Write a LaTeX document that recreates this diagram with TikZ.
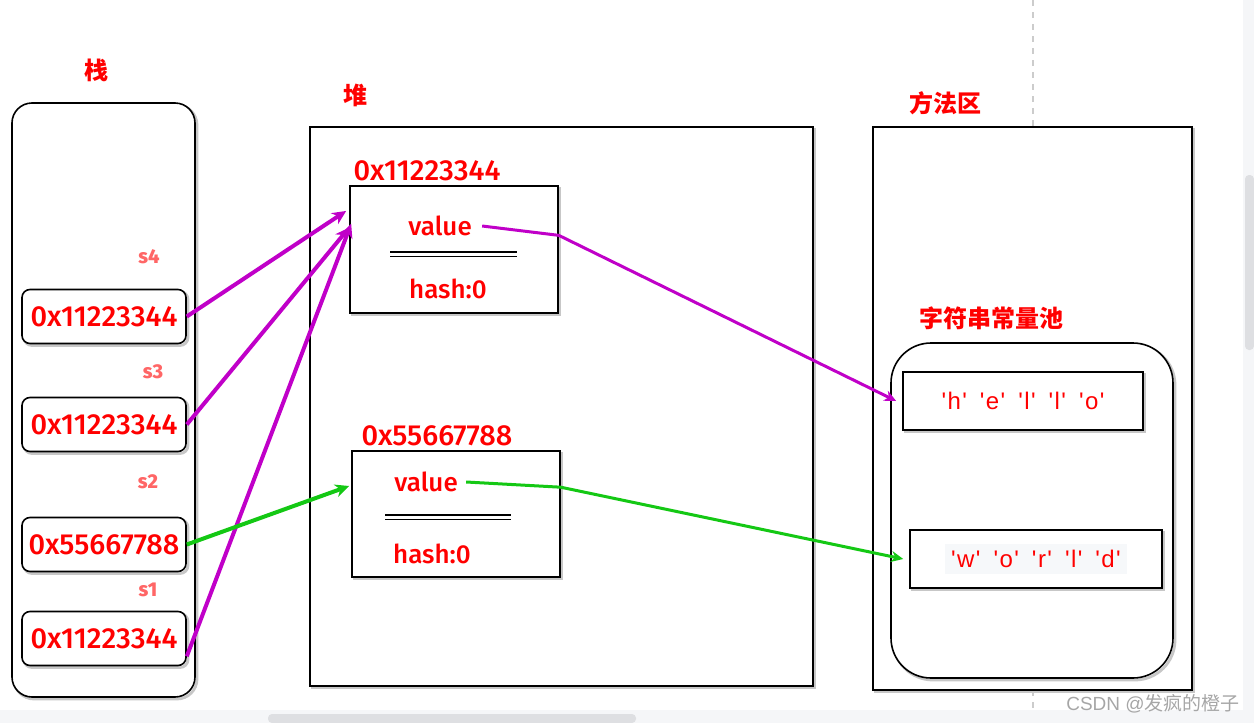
\documentclass[tikz,border=0pt]{standalone}
\usepackage{fontspec}
\setmainfont{Fira Sans}[UprightFont={* Medium}]
\newfontfamily\cjk{Noto Sans CJK SC}
\newfontfamily\charfont{Liberation Sans}[LetterSpace=6]
\newfontfamily\markfont{Liberation Sans}
\usepackage{tikz}
\usetikzlibrary{arrows.meta,positioning,calc}
\definecolor{memred}{HTML}{FF0000}
\definecolor{varred}{HTML}{FF6666}
\definecolor{refpurple}{HTML}{C000C8}
\definecolor{refgreen}{HTML}{14C814}
\definecolor{panegray}{HTML}{F5F6F8}
\definecolor{thumbgray}{HTML}{DEDFE2}
\definecolor{codebg}{HTML}{F6F8FA}
\newcommand{\chgap}{\hspace{6.5pt}}
\tikzset{
  sketch/.style = {draw, line width=0.8pt, fill=white, preaction={draw=black!22, line width=1.4pt, transform canvas={shift={(1pt,-1pt)}}}},
  areatitle/.style = {font=\cjk\bfseries\fontsize{12}{14}\selectfont, text=memred},
  slotbox/.style = {sketch, rounded corners=4pt, minimum width=82pt, minimum height=27pt, text=memred, font=\fontsize{14.5}{16}\selectfont},
  varname/.style = {font=\bfseries\fontsize{10}{12}\selectfont, text=varred},
  objbox/.style = {sketch, minimum width=104pt, minimum height=63.5pt},
  addr/.style = {text=memred, font=\fontsize{14.5}{16}\selectfont},
  field/.style = {text=memred, font=\fontsize{13}{15}\selectfont},
  charbox/.style = {sketch, minimum height=29pt, text=memred, font=\charfont\fontsize{12}{14}\selectfont},
  refarrow/.style = {-{Stealth[length=7pt, width=6.5pt]}, line width=2pt, draw=refpurple},
  valarrow/.style = {-{Stealth[length=6pt, width=5.5pt]}, line width=1.5pt},
}
\begin{document}
\begin{tikzpicture}[x=0.5pt, y=-0.5pt, every node/.style={inner sep=0pt}]
\useasboundingbox (0,0) rectangle (1254,723);
% screenshot margins
\fill[panegray] (0,710) rectangle (1254,723);
\fill[panegray] (1243,0) rectangle (1254,723);
\fill[thumbgray, rounded corners=2pt] (268,714) rectangle (636,723);
\fill[thumbgray, rounded corners=2pt] (1245,175) rectangle (1254,350);
\draw[black!20, dashed, line width=0.8pt] (1033,0) -- (1033,127);
\draw[black!20, dashed, line width=0.8pt] (1033,690) -- (1033,710);

% stack
\node[sketch, rounded corners=10pt, minimum width=91.5pt, minimum height=297pt] (stack) at (103.5,400) {};
\node[areatitle] (stacktitle) at (96,70) {栈};
\node[slotbox] (s4box) at (104,316.5) {0x11223344};
\node[slotbox] (s3box) at (104,424.5) {0x11223344};
\node[slotbox] (s2box) at (104,544.5) {0x55667788};
\node[slotbox] (s1box) at (104,638.5) {0x11223344};
\node[varname] (s4) at (149,257) {s4};
\node[varname] (s3) at (153,372) {s3};
\node[varname] (s2) at (148,482) {s2};
\node[varname] (s1) at (148,590) {s1};

% heap
\node[sketch, minimum width=251.5pt, minimum height=279.5pt] (heap) at (561.5,406.5) {};
\node[areatitle] (heaptitle) at (355,95) {堆};
\node[objbox] (obj1) at (454,249.5) {};
\node[addr, above right=2pt and 2pt of obj1.north west] (addr1) {0x11223344};
\node[field] (val1) at (440,226) {value};
\node[field] (hash1) at (448,289) {hash:0};
\draw[double, double distance=1.5pt, line width=0.6pt] (390,254) -- (517,254);
\node[objbox, minimum height=63pt] (obj2) at (456,514) {};
\node[addr, above right=2pt and 5pt of obj2.north west] (addr2) {0x55667788};
\node[field] (val2) at (426,482) {value};
\node[field] (hash2) at (432,554) {hash:0};
\draw[double, double distance=1.5pt, line width=0.6pt] (385,517) -- (511,517);

% method area
\node[sketch, minimum width=159.5pt, minimum height=281.5pt] (method) at (1032.5,408.5) {};
\node[areatitle] (methodtitle) at (945,103) {方法区};
\node[areatitle] (pooltitle) at (991,318) {字符串常量池};
\node[sketch, rounded corners=20pt, minimum width=141pt, minimum height=167.5pt] (pool) at (1032,510.5) {};
\node[charbox, minimum width=120pt] (hello) at (1023,401) {'h'\chgap'e'\chgap'l'\chgap'l'\chgap'o'};
\node[charbox, minimum width=126pt] (world) at (1036,559) {\colorbox{codebg}{'w'\chgap'o'\chgap'r'\chgap'l'\chgap'd'}};

% references
\draw[refarrow] (s4box.east) -- ($(obj1.north west)!0.2!(obj1.south west)+(-3,0)$);
\draw[refarrow] (s3box.east) -- ($(obj1.north west)!0.33!(obj1.south west)+(0,0)$);
\draw[refarrow] ($(s1box.south east)+(0,-10)$) -- ($(obj1.north west)!0.3!(obj1.south west)+(2,0)$);
\draw[refarrow, draw=refgreen] (s2box.east) -- ($(obj2.west)+(-2,-28)$);
\draw[valarrow, draw=refpurple] ([xshift=5pt]val1.east) -- ($(obj1.north east)!0.39!(obj1.south east)$) -- ([xshift=-3pt]hello.west);
\draw[valarrow, draw=refgreen] ([xshift=4pt]val2.east) -- ($(obj2.north east)!0.29!(obj2.south east)$) -- ([xshift=-3pt]world.west);

% watermark
\node[text=black!35, font=\fontsize{9.5}{11}\selectfont] (mark) at (1153,704) {\markfont CSDN @\cjk 发疯的橙子};
\end{tikzpicture}
\end{document}
